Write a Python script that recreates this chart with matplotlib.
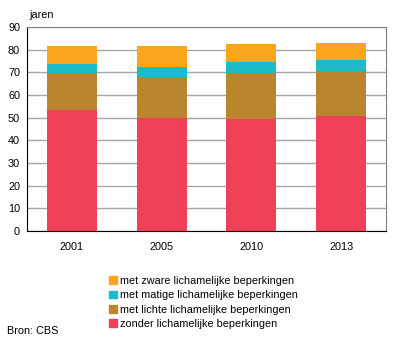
import numpy as np
import matplotlib
matplotlib.use('Agg')
import matplotlib.pyplot as plt
from matplotlib.patches import Patch

plt.rcParams['font.family'] = ['Liberation Sans', 'DejaVu Sans']

# data
jaren = ['2001', '2005', '2010', '2013']
zonder = [53.5, 50.0, 49.4, 50.7]
lichte = [16.2, 17.9, 20.3, 19.7]
matige = [4.0, 4.4, 4.8, 5.0]
zware = [8.0, 9.4, 8.0, 7.5]

labels = ['zonder lichamelijke beperkingen', 'met lichte lichamelijke beperkingen',
          'met matige lichamelijke beperkingen', 'met zware lichamelijke beperkingen']
colors = ['#f04057', '#b9852f', '#1bbcc7', '#f9a61c']

fig = plt.figure(figsize=(3.96, 3.43), dpi=100)
ax = fig.add_axes([27/396, 1-231/343, 359/396, 204/343])

x = np.arange(len(jaren))
bottom = np.zeros(len(jaren))
for vals, c in zip([zonder, lichte, matige, zware], colors):
    ax.bar(x, vals, bottom=bottom, width=0.555, color=c, zorder=3)
    bottom += np.array(vals)

ax.set_xlim(-0.5, 3.5)
ax.set_ylim(0, 90)
ax.set_yticks(range(0, 91, 10))
ax.yaxis.grid(True, color='#a6a6a6', linewidth=1, zorder=0)
ax.set_xticks(x)
ax.set_xticklabels(jaren)
ax.tick_params(axis='both', labelsize=7.8, length=0, pad=5)
ax.tick_params(axis='x', pad=8)
for s in ['top', 'right']:
    ax.spines[s].set_color('#808080')
for s in ['left', 'bottom']:
    ax.spines[s].set_color('black')

fig.text(29/396, 1-15/343, 'jaren', fontsize=7.8, va='center')
fig.text(7/396, 1-331/343, 'Bron: CBS', fontsize=7.8, va='center')

handles = [Patch(color=c) for c in colors[::-1]]
fig.legend(handles, labels[::-1], loc='upper left', bbox_to_anchor=(109/396, 1-276/343),
           frameon=False, fontsize=7.8, handlelength=0.7, handleheight=0.7,
           handletextpad=0.3, labelspacing=0.4, borderaxespad=0, borderpad=0)

fig.savefig('out.png', dpi=100)
